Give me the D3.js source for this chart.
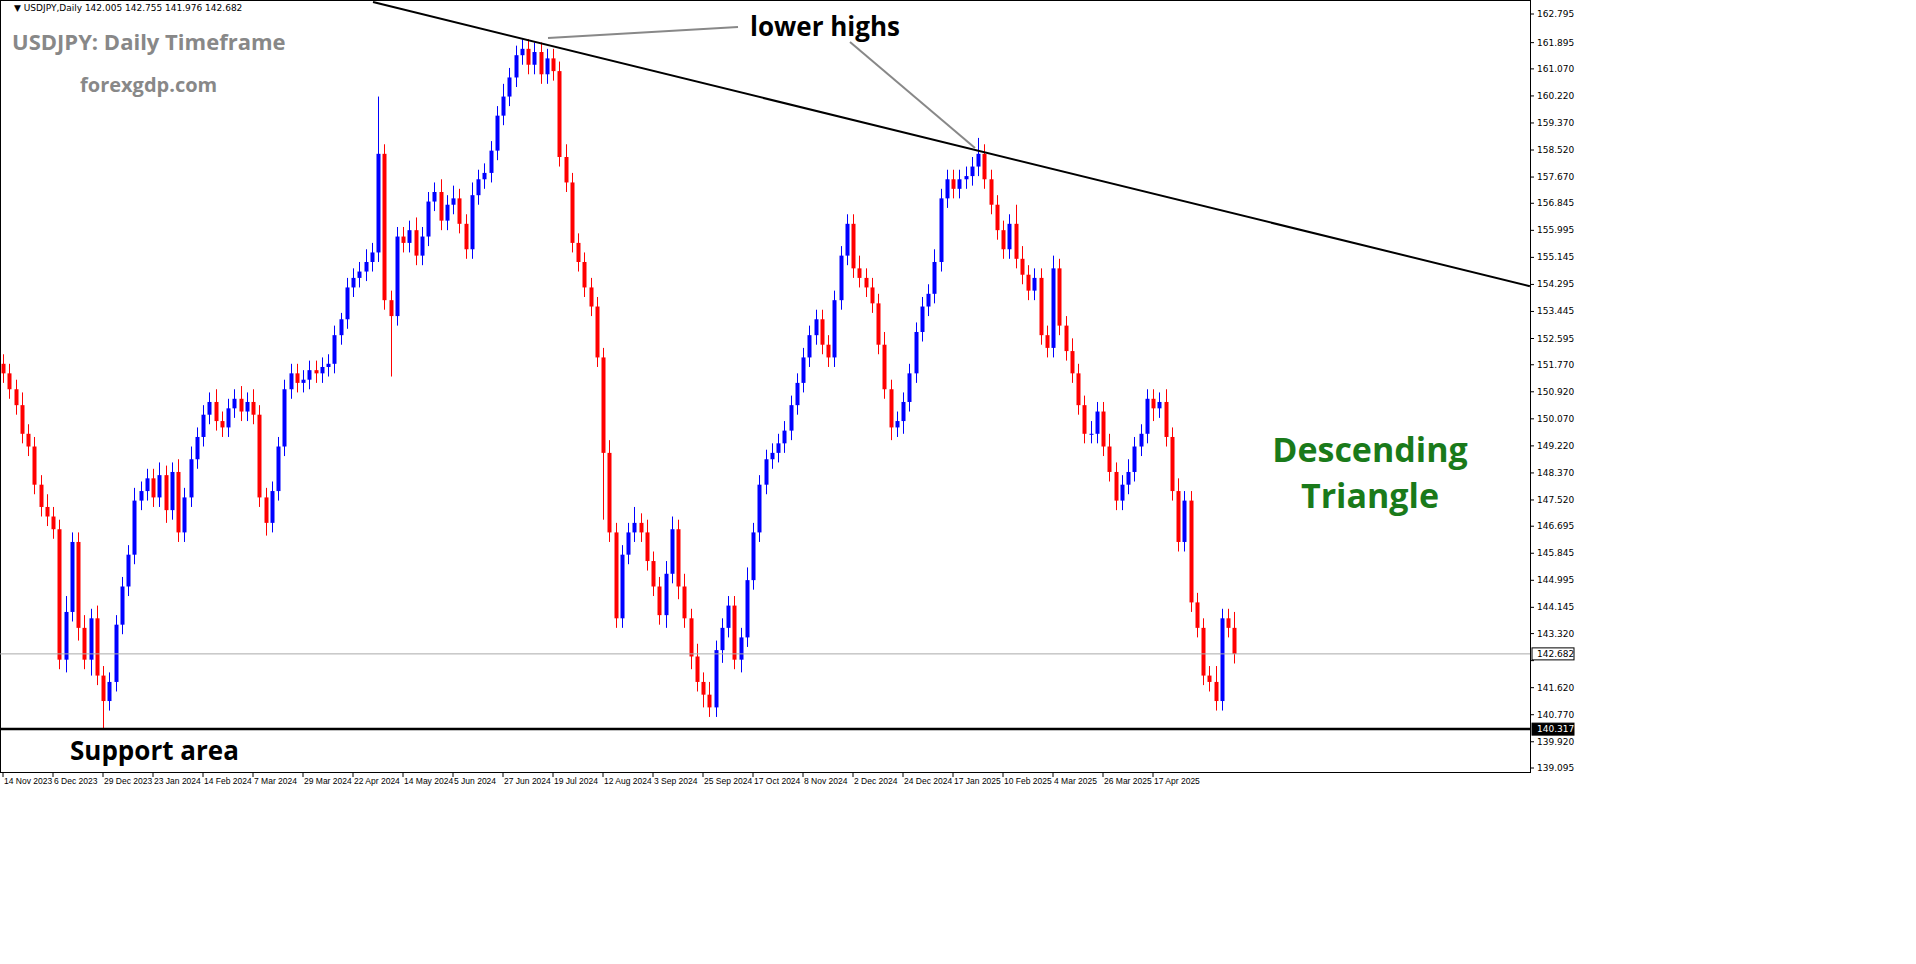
<!DOCTYPE html><html><head><meta charset="utf-8">
<script src="https://cdn.jsdelivr.net/npm/d3@7"></script>
<style>body{margin:0;background:#fff}svg{display:block}</style></head><body>
<svg id="c" width="1916" height="964"></svg>
<script>
const closes=[151.5,151.0,150.5,149.6,149.2,148.0,147.3,147.0,
146.6,142.5,144.0,146.2,143.5,142.5,143.8,142.0,
141.2,141.8,143.6,144.8,145.8,147.5,147.8,148.2,
147.6,148.3,147.2,148.4,146.5,147.6,148.8,149.5,
150.2,150.6,150.0,149.8,150.4,150.7,150.3,150.6,
150.2,147.6,146.8,147.8,149.2,151.0,151.5,151.2,
151.3,151.6,151.5,151.7,151.8,152.7,153.2,154.2,
154.5,154.7,155.0,155.3,158.4,153.8,153.3,155.8,
155.6,156.0,155.2,155.8,156.9,157.2,156.3,156.8,
157.0,156.2,155.4,157.1,157.6,157.8,158.5,159.6,
160.2,160.8,161.5,161.7,161.2,161.6,160.9,161.4,
161.0,158.3,157.5,155.6,155.0,154.2,153.6,152.0,
149.0,146.5,143.8,145.8,146.5,146.8,146.5,145.6,
144.8,143.9,145.2,146.6,144.8,143.8,142.6,141.8,
141.4,141.0,142.8,143.5,144.2,142.5,143.2,145.0,
146.5,148.0,148.8,149.0,149.3,149.7,150.5,151.2,
152.0,152.7,153.2,152.4,152.0,153.8,155.2,156.2,
154.8,154.5,154.2,153.7,152.4,151.0,149.8,150.0,
150.6,151.5,152.8,153.6,154.0,155.0,157.0,157.6,
157.3,157.6,157.7,158.0,158.4,157.6,156.8,156.0,
155.4,156.2,155.1,154.6,154.1,154.5,152.7,152.3,
154.8,153.0,152.2,151.5,150.5,149.6,149.6,150.3,
149.2,148.4,147.5,148.0,148.4,149.2,149.6,150.7,
150.4,150.6,149.5,147.8,146.2,147.5,144.3,143.5,
142.0,141.8,141.2,143.8,143.5,142.68];
const firstOpen=151.8;
const highWicks="333433343353343433333433343343433343334343333333333333233340i33333433343433433334333333333433333343335343344343434333334333333333333333334333433333334333333533333643333433433433433433333434333335335343443".replace(/ /g,"");
const lowWicks="33333333334343539333333333433333333333333343333333333333333333j333333333333333333333333333333333l333333333434343433433433333333333333333333333434333333333333333333333333333333333333333433333333333333d333";
const dateLabels=["14 Nov 2023","6 Dec 2023","29 Dec 2023","23 Jan 2024","14 Feb 2024","7 Mar 2024","29 Mar 2024","22 Apr 2024","14 May 2024","5 Jun 2024","27 Jun 2024","19 Jul 2024","12 Aug 2024","3 Sep 2024","25 Sep 2024","17 Oct 2024","8 Nov 2024","2 Dec 2024","24 Dec 2024","17 Jan 2025","10 Feb 2025","4 Mar 2025","26 Mar 2025","17 Apr 2025"];
const priceTicks=[162.795,161.895,161.070,160.220,159.370,158.520,157.670,156.845,155.995,155.145,154.295,153.445,152.595,151.770,150.920,150.070,149.220,148.370,147.520,146.695,145.845,144.995,144.145,143.320,142.470,141.620,140.770,139.920,139.095];
const trendline=[[59.2,163.17],[244.3,154.24]];
const supportLevel=140.317, lastPrice=142.682;

const svg=d3.select("#c");
const R=1530,B=772;
const x=d3.scaleLinear().domain([0,1]).range([3,9.25]);
const y=d3.scaleLinear().domain([139.095,162.795]).range([768,14]);
const w36=s=>s.split("").map(c=>parseInt(c,36)/10);
const hw=w36(highWicks), lw=w36(lowWicks);
const data=closes.map((c,i)=>{const o=i?closes[i-1]:firstOpen;return{i,o,c,h:Math.max(o,c)+(hw[i]||0.3),l:Math.min(o,c)-(lw[i]||0.3)};});
svg.append("rect").attr("x",0.5).attr("y",0.5).attr("width",R).attr("height",B).attr("fill","none").attr("stroke","#000");
const g=svg.append("g");
data.forEach(d=>{const col=d.c>=d.o?"#0000ff":"#ff0000";const cx=Math.round(x(d.i))+0.5;
g.append("line").attr("x1",cx).attr("x2",cx).attr("y1",y(d.h)).attr("y2",y(d.l)).attr("stroke",col);
g.append("rect").attr("x",cx-2).attr("width",4).attr("y",y(Math.max(d.o,d.c))).attr("height",Math.max(1,Math.abs(y(d.o)-y(d.c)))).attr("fill",col);});
svg.append("line").attr("x1",x(trendline[0][0])).attr("y1",y(trendline[0][1])).attr("x2",x(trendline[1][0])).attr("y2",y(trendline[1][1])).attr("stroke","#000").attr("stroke-width",2);
svg.append("line").attr("x1",0).attr("x2",R).attr("y1",y(supportLevel)).attr("y2",y(supportLevel)).attr("stroke","#000").attr("stroke-width",2.5);
svg.append("line").attr("x1",0).attr("x2",R).attr("y1",y(lastPrice)).attr("y2",y(lastPrice)).attr("stroke","#aaa").attr("stroke-width",1);
const special=[lastPrice,supportLevel];
priceTicks.forEach(p=>{svg.append("line").attr("x1",R).attr("x2",R+4).attr("y1",y(p)).attr("y2",y(p)).attr("stroke","#000");
if(special.some(s=>Math.abs(y(s)-y(p))<10))return;
svg.append("text").attr("x",R+7).attr("y",y(p)+3).attr("font-family","DejaVu Sans").attr("font-size",9).text(p.toFixed(3));});
[[lastPrice,"#fff","#000"],[supportLevel,"#000","#fff"]].forEach(([p,bg,fg])=>{
svg.append("rect").attr("x",R+2).attr("y",y(p)-6).attr("width",42).attr("height",12).attr("fill",bg).attr("stroke","#000");
svg.append("text").attr("x",R+7).attr("y",y(p)+3).attr("font-family","DejaVu Sans").attr("font-size",9).attr("fill",fg).text(p.toFixed(3));});
dateLabels.forEach((t,k)=>{const xx=x(k*8);svg.append("line").attr("x1",xx).attr("x2",xx).attr("y1",B).attr("y2",B+5).attr("stroke","#000");
svg.append("text").attr("x",xx+1).attr("y",B+12).attr("font-family","Liberation Sans").attr("font-size",8.5).text(t);});
const txt=(t,xx,yy,s,c,a)=>svg.append("text").attr("x",xx).attr("y",yy).attr("font-family","Open Sans, DejaVu Sans").attr("font-weight","bold").attr("font-size",s).attr("fill",c).attr("text-anchor",a||"start").text(t);
svg.append("text").attr("x",14).attr("y",11).attr("font-family","DejaVu Sans").attr("font-size",9).text("▼ USDJPY,Daily  142.005 142.755 141.976 142.682");
txt("USDJPY: Daily Timeframe",12,50,22,"#888");
txt("forexgdp.com",80,92,20,"#888");
txt("lower highs",750,36,26,"#000");
txt("Support area",70,760,26,"#000");
txt("Descending",1370,462,34,"#1a7a1a","middle");
txt("Triangle",1370,508,34,"#1a7a1a","middle");
svg.append("line").attr("x1",548).attr("y1",38).attr("x2",738).attr("y2",27).attr("stroke","#888").attr("stroke-width",2);
svg.append("line").attr("x1",850).attr("y1",42).attr("x2",975).attr("y2",148).attr("stroke","#888").attr("stroke-width",2);
</script></body></html>
